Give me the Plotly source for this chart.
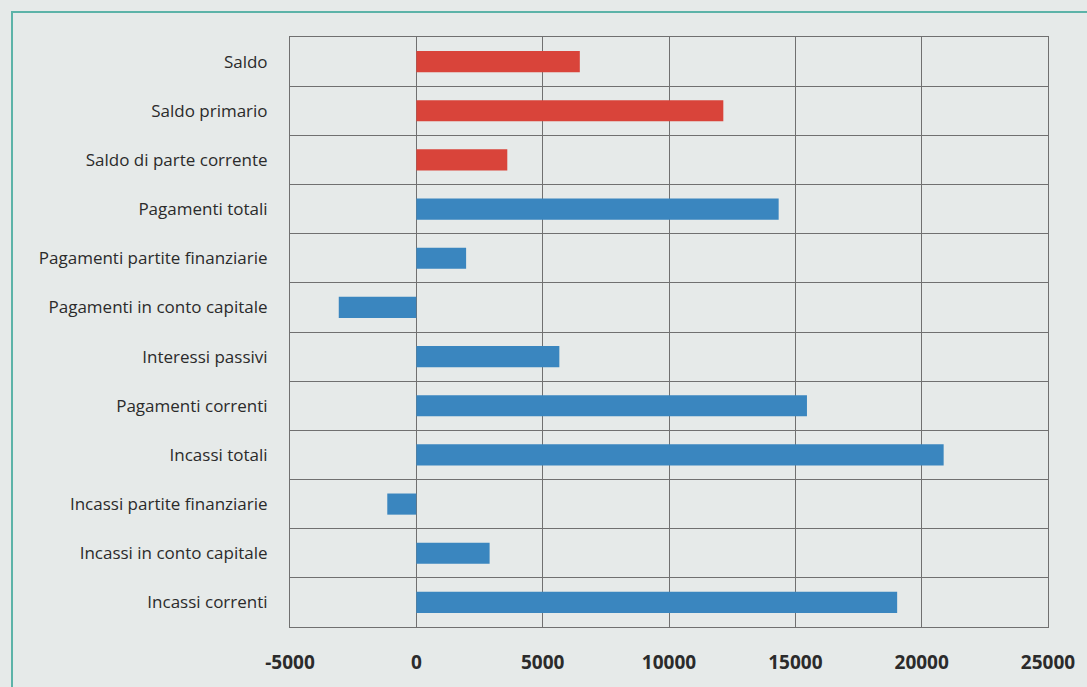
import plotly.graph_objects as go

categories = [
    "Incassi correnti",
    "Incassi in conto capitale",
    "Incassi partite finanziarie",
    "Incassi totali",
    "Pagamenti correnti",
    "Interessi passivi",
    "Pagamenti in conto capitale",
    "Pagamenti partite finanziarie",
    "Pagamenti totali",
    "Saldo di parte corrente",
    "Saldo primario",
    "Saldo",
]
values = [19030, 2900, -1150, 20870, 15460, 5660, -3070, 1970, 14340, 3600, 12150, 6470]
is_saldo = [False] * 9 + [True] * 3

x_tick_values = [-5000, 0, 5000, 10000, 15000, 20000, 25000]
x_tick_labels = ["-5000", "0", "5000", "10000", "15000", "20000", "25000"]

BLUE = "#3a86bf"
RED = "#d9443a"
colors = [RED if s else BLUE for s in is_saldo]
positions = list(range(len(categories)))

fig = go.Figure()
fig.add_trace(go.Bar(
    x=values,
    y=positions,
    orientation="h",
    marker=dict(color=colors, line=dict(width=0)),
    width=0.43,
    showlegend=False,
))

BG = "#e6eae9"
GRID = "#707070"

fig.update_layout(
    width=1087,
    height=687,
    paper_bgcolor=BG,
    plot_bgcolor=BG,
    margin=dict(l=290, r=39, t=37, b=60),
    font=dict(family="'Open Sans', sans-serif", color="#2b2b2b"),
    shapes=[dict(
        type="rect", xref="paper", yref="paper",
        x0=-278 / 758, x1=1 + 60 / 758, y0=-80 / 590, y1=1 + 25 / 590,
        line=dict(color="#5cb3a8", width=2), fillcolor="rgba(0,0,0,0)",
        layer="below",
    )],
)

fig.update_xaxes(
    range=[-5000, 25000],
    tickmode="array",
    tickvals=x_tick_values,
    ticktext=x_tick_labels,
    showgrid=True,
    gridcolor=GRID,
    gridwidth=1,
    zeroline=False,
    showline=True,
    linecolor=GRID,
    mirror=True,
    ticks="",
    tickfont=dict(size=19, family="'Open Sans', sans-serif", weight="bold", color="#2b2b2b"),
    ticklabelstandoff=18,
)

fig.update_yaxes(
    range=[-0.5, len(categories) - 0.5],
    tickmode="array",
    tickvals=positions,
    ticktext=categories,
    showgrid=False,
    zeroline=False,
    showline=True,
    linecolor=GRID,
    mirror=True,
    ticks="",
    tickfont=dict(size=17, color="#2b2b2b"),
    ticklabelstandoff=18,
    minor=dict(tick0=0.5, dtick=1, showgrid=True, gridcolor=GRID, gridwidth=1, ticks=""),
)

fig.write_html("out.html")
